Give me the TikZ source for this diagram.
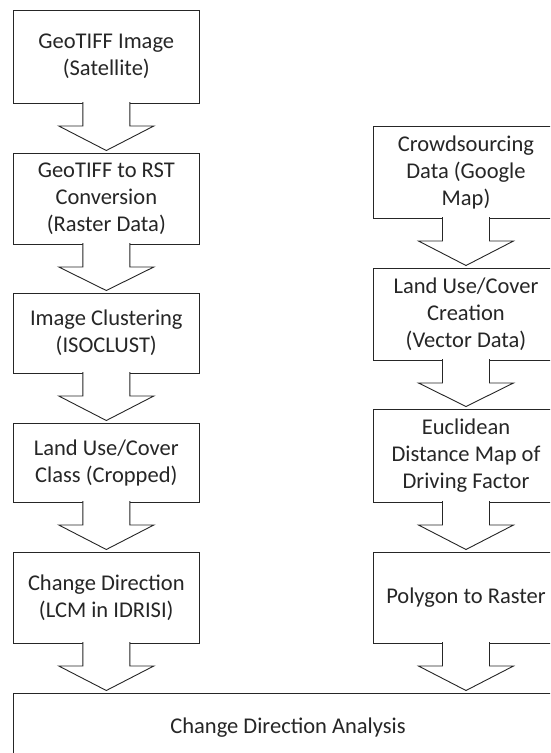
\documentclass[tikz,border=0pt]{standalone}
\usepackage{fontspec}
\setmainfont{Carlito}
\usetikzlibrary{calc}

% block arrow from the bottom of one box to the top of the next
\newcommand{\flowdown}[2]{%
  \draw[arrowbody] ($(#1.south)+(-23.5,1)$) -- ++(0,-24) -- ++(-24,0)
    -- ($(#1.south |- #2.north)+(0,2.5)$) -- ($(#1.south)+(47.5,-23)$)
    -- ++(-24,0) -- ++(0,24);}

\begin{document}
\begin{tikzpicture}[x=1pt, y=1pt,
    stagebox/.style={draw=black!85, line width=0.9pt, fill=white, align=center,
      minimum width=186pt, inner sep=0pt, outer sep=0pt, text=black!85,
      font=\fontsize{22.5}{27}\selectfont},
    arrowbody/.style={draw=black!85, line width=0.9pt, fill=white, line join=miter}]
    \useasboundingbox (0,0) rectangle (550,-753);
    \clip (0,0) rectangle (550,-753);

    % Left column (satellite image)
    \node[stagebox, minimum height=93pt] (geotiff) at (106.3,-56.5) {GeoTIFF Image\\(Satellite)};
    \node[stagebox, minimum height=91pt] (rst) at (106.3,-198.5) {GeoTIFF to RST\\Conversion\\(Raster Data)};
    \node[stagebox, minimum height=80pt] (cluster) at (106.3,-333) {Image Clustering\\(ISOCLUST)};
    \node[stagebox, minimum height=79pt] (landclass) at (106.3,-462.5) {Land Use/Cover\\Class (Cropped)};
    \node[stagebox, minimum height=91pt] (lcm) at (106.3,-597.5) {Change Direction\\(LCM in IDRISI)};

    % Right column (crowdsourcing)
    \node[stagebox, minimum height=92pt] (crowd) at (466,-172) {Crowdsourcing\\Data (Google\\Map)};
    \node[stagebox, minimum height=92pt] (vector) at (466,-314) {Land Use/Cover\\Creation\\(Vector Data)};
    \node[stagebox, minimum height=93pt] (euclid) at (466,-455.5) {Euclidean\\Distance Map of\\Driving Factor};
    \node[stagebox, minimum height=91pt] (polyrast) at (466,-597.5) {Polygon to Raster};

    % Joint analysis
    \node[stagebox, minimum width=550pt, minimum height=70pt] (analysis) at (288,-728) {Change Direction Analysis};

    \foreach \a/\b in {geotiff/rst, rst/cluster, cluster/landclass, landclass/lcm, lcm/analysis,
                       crowd/vector, vector/euclid, euclid/polyrast, polyrast/analysis}
        \flowdown{\a}{\b};
\end{tikzpicture}
\end{document}
